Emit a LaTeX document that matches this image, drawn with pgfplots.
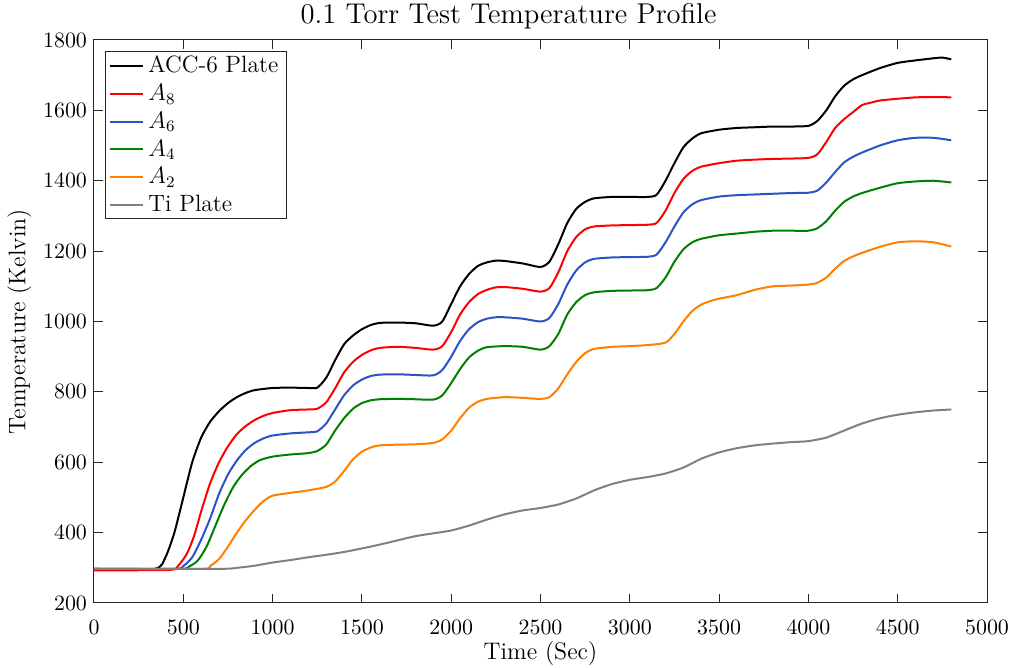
\documentclass[border=0pt]{standalone}
\usepackage{pgfplots}
\pgfplotsset{compat=1.18}
\definecolor{cblue}{rgb}{0.17,0.32,0.78}
\definecolor{cgreen}{rgb}{0,0.5,0}
\definecolor{corange}{rgb}{1,0.5,0}
\definecolor{cgray}{rgb}{0.5,0.5,0.5}
\definecolor{axgray}{rgb}{0.15,0.15,0.15}
\begin{document}
\begin{tikzpicture}[font=\fontsize{11.3}{13}\selectfont]
\begin{axis}[
  scale only axis,
  width=446.5pt, height=281.5pt,
  xmin=0, xmax=5000, ymin=200, ymax=1800,
  xtick={0,500,...,5000}, ytick={200,400,...,1800},
  /pgf/number format/set thousands separator={},
  tick align=inside, major tick length=4.5pt,
  axis line style={axgray, line width=0.5pt},
  tick style={axgray, line width=0.5pt},
  xticklabel style={yshift=-5pt},
  title={0.1 Torr Test Temperature Profile},
  title style={font=\fontsize{14.3}{16}\selectfont, yshift=-4pt, xshift=-16pt},
  xlabel={Time (Sec)}, ylabel={Temperature (Kelvin)},
  xlabel style={font=\fontsize{12}{14}\selectfont, yshift=3pt},
  ylabel style={font=\fontsize{12}{14}\selectfont, yshift=-1pt},
  legend cell align=left,
  legend style={at={(rel axis cs:0.0123,0.98)}, anchor=north west, draw=axgray, line width=0.5pt, row sep=0.2pt, inner xsep=2pt, inner ysep=0pt, font=\fontsize{11.8}{13.5}\selectfont},
  legend image post style={line width=1pt},
  legend image code/.code={\draw[#1] (0cm,0cm) -- (0.58cm,0cm);},
  every axis plot/.append style={line width=1pt, smooth, tension=0.4},
]
\addplot[black] coordinates {(0,297)(340,297)(400,330)(450,400)(500,500)(550,600)(600,670)(650,715)(700,745)(750,768)(800,785)(850,797)(900,805)(1000,811)(1100,812)(1200,811)(1250,812)(1300,840)(1350,890)(1400,935)(1450,960)(1500,978)(1550,990)(1600,996)(1700,997)(1800,995)(1900,988)(1950,1000)(2000,1050)(2050,1100)(2100,1135)(2150,1158)(2200,1168)(2250,1173)(2300,1172)(2400,1165)(2500,1155)(2550,1170)(2600,1220)(2650,1280)(2700,1320)(2750,1340)(2800,1350)(2900,1354)(3000,1354)(3100,1354)(3150,1360)(3200,1400)(3250,1450)(3300,1495)(3350,1520)(3400,1535)(3500,1545)(3600,1550)(3700,1552)(3800,1554)(3900,1554)(4000,1556)(4050,1570)(4100,1600)(4150,1640)(4200,1670)(4250,1688)(4300,1700)(4400,1720)(4500,1735)(4600,1742)(4700,1748)(4750,1750)(4800,1745)};
\addlegendentry{ACC-6 Plate}
\addplot[red] coordinates {(0,293)(420,294)(470,305)(520,340)(560,390)(600,460)(650,540)(700,600)(750,645)(800,680)(850,703)(900,720)(950,732)(1000,740)(1100,748)(1200,750)(1250,752)(1300,770)(1350,810)(1400,855)(1450,885)(1500,905)(1550,918)(1600,925)(1700,928)(1800,925)(1900,920)(1950,930)(2000,970)(2050,1020)(2100,1055)(2150,1078)(2200,1090)(2250,1097)(2300,1098)(2400,1093)(2500,1085)(2550,1095)(2600,1140)(2650,1200)(2700,1240)(2750,1262)(2800,1270)(2900,1273)(3000,1274)(3100,1275)(3150,1280)(3200,1315)(3250,1365)(3300,1405)(3350,1428)(3400,1440)(3500,1450)(3600,1457)(3700,1460)(3800,1462)(3900,1463)(4000,1465)(4050,1475)(4100,1510)(4150,1550)(4200,1575)(4250,1595)(4300,1615)(4350,1622)(4400,1628)(4500,1633)(4600,1637)(4700,1638)(4800,1637)};
\addlegendentry{$A_8$}
\addplot[cblue] coordinates {(0,297)(450,297)(500,305)(550,330)(600,380)(650,440)(700,510)(750,565)(800,605)(850,635)(900,655)(950,668)(1000,676)(1100,682)(1200,685)(1250,688)(1300,710)(1350,750)(1400,790)(1450,818)(1500,835)(1550,845)(1600,849)(1700,850)(1800,848)(1900,847)(1950,862)(2000,900)(2050,945)(2100,978)(2150,998)(2200,1008)(2250,1012)(2300,1012)(2400,1008)(2500,1000)(2550,1010)(2600,1050)(2650,1105)(2700,1145)(2750,1168)(2800,1178)(2900,1182)(3000,1183)(3100,1184)(3150,1190)(3200,1225)(3250,1270)(3300,1310)(3350,1333)(3400,1345)(3500,1355)(3600,1359)(3700,1361)(3800,1363)(3900,1365)(4000,1366)(4050,1372)(4100,1395)(4150,1425)(4200,1452)(4250,1468)(4300,1480)(4400,1500)(4500,1515)(4600,1522)(4700,1522)(4800,1515)};
\addlegendentry{$A_6$}
\addplot[cgreen] coordinates {(0,297)(480,297)(530,303)(580,320)(630,360)(680,420)(730,480)(780,530)(830,565)(880,590)(930,606)(1000,616)(1100,622)(1200,626)(1250,632)(1300,650)(1350,690)(1400,725)(1450,752)(1500,768)(1550,776)(1600,779)(1700,780)(1800,779)(1900,778)(1950,790)(2000,825)(2050,865)(2100,898)(2150,917)(2200,927)(2300,930)(2400,928)(2500,920)(2550,930)(2600,965)(2650,1020)(2700,1055)(2750,1075)(2800,1083)(2900,1087)(3000,1088)(3100,1089)(3150,1095)(3200,1125)(3250,1170)(3300,1205)(3350,1225)(3400,1235)(3500,1245)(3600,1250)(3700,1255)(3800,1258)(3900,1258)(4000,1258)(4050,1265)(4100,1285)(4150,1315)(4200,1340)(4250,1355)(4300,1365)(4400,1380)(4500,1393)(4600,1398)(4700,1400)(4800,1395)};
\addlegendentry{$A_4$}
\addplot[corange] coordinates {(0,297)(600,297)(650,305)(700,325)(750,360)(800,400)(850,435)(900,465)(950,490)(1000,505)(1100,513)(1200,520)(1300,530)(1350,545)(1400,575)(1450,608)(1500,630)(1550,642)(1600,648)(1700,650)(1800,651)(1900,655)(1950,665)(2000,690)(2050,725)(2100,755)(2150,772)(2200,780)(2300,785)(2400,783)(2500,780)(2550,785)(2600,810)(2650,850)(2700,885)(2750,910)(2800,922)(2900,928)(3000,930)(3100,933)(3200,940)(3250,965)(3300,1000)(3350,1030)(3400,1048)(3450,1058)(3500,1065)(3600,1075)(3700,1090)(3800,1100)(3900,1102)(4000,1105)(4050,1110)(4100,1125)(4150,1150)(4200,1172)(4250,1185)(4300,1195)(4400,1212)(4500,1225)(4600,1228)(4700,1225)(4800,1213)};
\addlegendentry{$A_2$}
\addplot[cgray] coordinates {(0,297)(700,297)(800,300)(900,306)(1000,315)(1100,322)(1200,330)(1300,337)(1400,345)(1500,355)(1600,366)(1700,378)(1800,390)(1900,398)(2000,406)(2100,420)(2200,437)(2300,452)(2400,463)(2500,470)(2600,480)(2700,497)(2800,520)(2900,538)(3000,550)(3100,558)(3200,568)(3300,585)(3400,610)(3500,628)(3600,640)(3700,648)(3800,653)(3900,657)(4000,660)(4100,670)(4200,690)(4300,710)(4400,725)(4500,735)(4600,742)(4700,747)(4800,750)};
\addlegendentry{Ti Plate}
\end{axis}
\path (current axis.south west) ++(-47pt,-32.5pt) coordinate (bbA);
\path (current axis.north east) ++(12pt,20pt) coordinate (bbB);
\pgfresetboundingbox
\path[use as bounding box] (bbA) rectangle (bbB);
\end{tikzpicture}
\end{document}
